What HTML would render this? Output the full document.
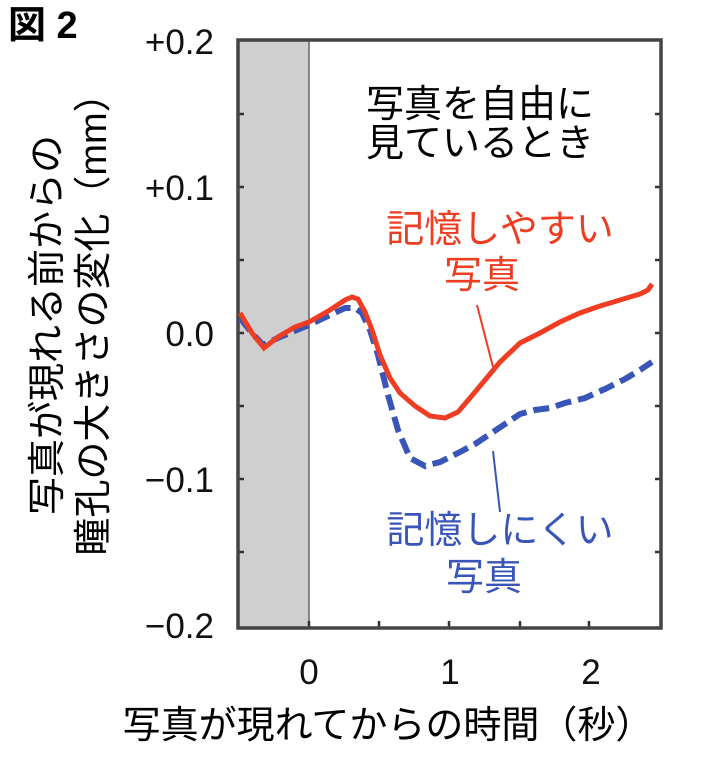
<!DOCTYPE html>
<html><head><meta charset="utf-8"><style>
body{margin:0;background:#fff}
svg text{font-family:"Liberation Sans","Noto Sans CJK JP",sans-serif}
</style></head><body>
<svg width="716" height="763" viewBox="0 0 716 763" xmlns="http://www.w3.org/2000/svg">
<rect x="0" y="0" width="716" height="763" fill="#fff"/>
<text x="8" y="38" font-size="38" font-weight="bold" fill="#000" font-family="Noto Sans CJK JP, sans-serif">図 2</text>
<rect x="238" y="40" width="71" height="588" fill="#cfcfcf"/>
<line x1="309" y1="40" x2="309" y2="628" stroke="#666" stroke-width="1.5"/>
<g stroke="#333" stroke-width="2.5">
<line x1="238" y1="187" x2="244" y2="187"/><line x1="238" y1="260" x2="244" y2="260"/><line x1="238" y1="333" x2="244" y2="333"/><line x1="238" y1="406" x2="244" y2="406"/><line x1="238" y1="479" x2="244" y2="479"/><line x1="238" y1="552" x2="244" y2="552"/><line x1="238" y1="114" x2="244" y2="114"/>
<line x1="661" y1="114" x2="655" y2="114"/><line x1="661" y1="187" x2="655" y2="187"/><line x1="661" y1="260" x2="655" y2="260"/><line x1="661" y1="333" x2="655" y2="333"/><line x1="661" y1="406" x2="655" y2="406"/><line x1="661" y1="479" x2="655" y2="479"/><line x1="661" y1="552" x2="655" y2="552"/>
<line x1="309" y1="628" x2="309" y2="621"/><line x1="379" y1="628" x2="379" y2="621"/><line x1="449" y1="628" x2="449" y2="621"/><line x1="520" y1="628" x2="520" y2="621"/><line x1="589" y1="628" x2="589" y2="621"/>
</g>
<rect x="238" y="40" width="423" height="588" fill="none" stroke="#444" stroke-width="3.5"/>
<g font-size="35" fill="#111" text-anchor="end">
<text x="214" y="54">+0.2</text><text x="214" y="200">+0.1</text><text x="214" y="346">0.0</text><text x="214" y="492">−0.1</text><text x="214" y="638">−0.2</text>
</g>
<g font-size="35" fill="#111" text-anchor="middle">
<text x="309" y="684">0</text><text x="450" y="684">1</text><text x="591" y="684">2</text>
</g>
<text x="388" y="738" font-size="38" text-anchor="middle" fill="#000">写真が現れてからの時間（秒）</text>
<g transform="translate(60,325) rotate(-90)"><text x="0" y="0" font-size="38" text-anchor="middle" fill="#000">写真が現れる前からの</text></g>
<g transform="translate(106,315) rotate(-90)"><text x="0" y="0" font-size="38" text-anchor="middle" fill="#000">瞳孔の大きさの変化（mm）</text></g>
<g font-size="38" text-anchor="middle">
<text x="480" y="117" fill="#000">写真を自由に</text><text x="480" y="156" fill="#000">見ているとき</text>
<text x="500" y="242" fill="#ee3d22">記憶しやすい</text><text x="482" y="288" fill="#ee3d22">写真</text>
<text x="500" y="543" fill="#3a55b8">記憶しにくい</text><text x="484" y="590" fill="#3a55b8">写真</text>
</g>
<line x1="477" y1="305" x2="493" y2="367" stroke="#ee3d22" stroke-width="2"/>
<line x1="493" y1="451" x2="500" y2="512" stroke="#3a55b8" stroke-width="2"/>
<polyline fill="none" stroke="#3a55b8" stroke-width="6" stroke-dasharray="16,7" points="240,318 252,333 263,345 280,337 309,325 330,315 345,308 355,308 362,313 370,330 378,355 388,395 398,430 410,458 425,466 440,462 460,452 475,444 490,434 505,424 520,414 535,410 550,408 565,403 585,398 605,389 625,379 640,370 652,362"/>
<polyline fill="none" stroke="#ee3d22" stroke-width="5" points="240,313 252,333 264,348 278,337 295,327 309,322 330,310 345,300 352,297 358,299 365,312 372,330 380,355 390,378 400,393 415,406 430,416 445,418 458,412 470,398 485,380 500,362 520,343 540,333 560,322 580,313 600,306 620,300 640,294 648,290 652,284"/>
</svg>
</body></html>
